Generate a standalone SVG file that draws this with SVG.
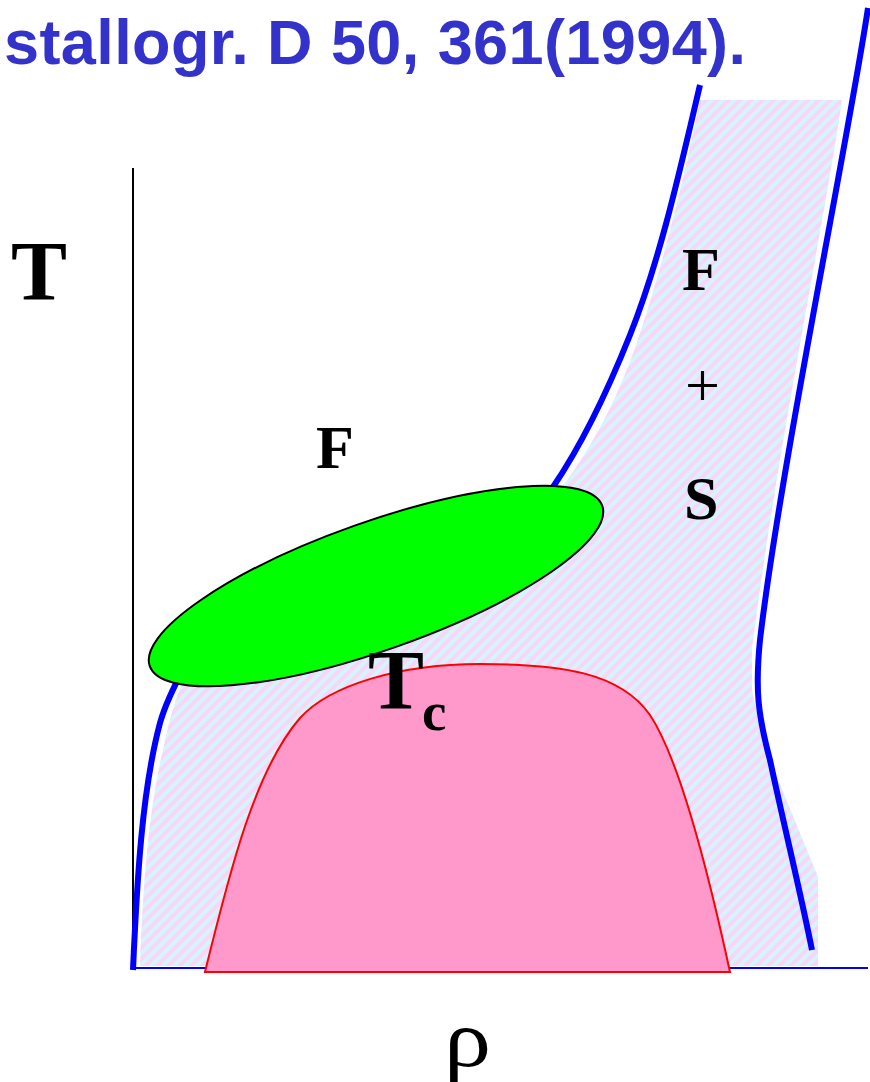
<svg xmlns="http://www.w3.org/2000/svg" width="870" height="1082" viewBox="0 0 870 1082">
  <style>
    .lbl { font-family: "Liberation Serif", "Times New Roman", serif; font-weight: bold; fill: #000; }
    .phase { stroke: #0000ff; stroke-width: 6; fill: none; stroke-linecap: butt; }
    .title { font-family: "Liberation Sans", Arial, sans-serif; font-weight: bold; fill: #3333cc; }
  </style>
  <defs>
    <pattern id="hatch" patternUnits="userSpaceOnUse" width="8" height="8" patternTransform="rotate(45)">
      <rect x="0" y="0" width="4" height="8" fill="#f7d6f8"/>
      <rect x="4" y="0" width="4" height="8" fill="#d6f4fb"/>
    </pattern>
  </defs>
  <rect x="0" y="0" width="870" height="1082" fill="#ffffff"/>

  <g id="title">
    <text class="title" x="4" y="64" font-size="63" textLength="742" lengthAdjust="spacing">stallogr. D 50, 361(1994).</text>
  </g>

  <g id="coexistence-region">
    <path d="M700,100 L842,100 C825,220 775,460 752,650 L752,690 C758,720 768,758 777,777 L818,877 L818,966 L140,966 C142,900 148,810 163,750 C170,715 178,690 190,665 L560,490 C590,450 615,405 636,345 C655,290 680,200 700,100 Z" fill="url(#hatch)"/>
  </g>

  <g id="axes">
    <line x1="133" y1="968" x2="868" y2="968" stroke="#0000ff" stroke-width="2"/>
    <line x1="133" y1="168" x2="133" y2="968" stroke="#000000" stroke-width="2"/>
  </g>

  <g id="critical-region">
    <path d="M205,972 C230,870 255,770 300,718 C330,685 400,664 480,664 C560,664 620,672 650,715 C680,760 710,880 730,972 Z" fill="#ff99cc" stroke="#ff0000" stroke-width="2"/>
  </g>

  <g id="connectors">
    <path class="phase" d="M133,970 C137,880 142,790 160,723 C165,705 172,690 185,666"/>
    <path class="phase" d="M700,85 C680,170 660,260 630,335 C610,385 585,440 553,487"/>
    <path class="phase" d="M868,8 C850,130 780,470 760,640 C755,690 758,715 770,760 C785,830 800,890 812,950"/>
  </g>

  <g id="ellipse-node">
    <ellipse cx="376" cy="586" rx="240" ry="64" transform="rotate(-19.5 376 586)" fill="#00ff00" stroke="#000000" stroke-width="2"/>
  </g>

  <g id="labels">
    <text class="lbl" x="11" y="300" font-size="84">T</text>
    <text class="lbl" x="316" y="468" font-size="62">F</text>
    <text class="lbl" x="682" y="290" font-size="62">F</text>
    <text x="685" y="406" font-size="62" font-family="Liberation Serif, 'Times New Roman', serif" fill="#000">+</text>
    <text class="lbl" x="684" y="519" font-size="62">S</text>
    <text class="lbl" x="368" y="709" font-size="84">T</text>
    <text class="lbl" x="422" y="730" font-size="55">c</text>
    <text x="0" y="0" transform="translate(444,1066) scale(1.15,1)" font-size="82" font-family="Liberation Serif, 'Times New Roman', serif" fill="#000">ρ</text>
  </g>
</svg>
